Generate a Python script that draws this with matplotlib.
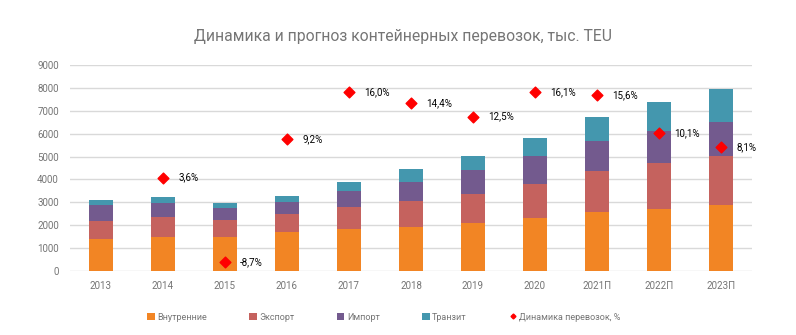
import matplotlib
matplotlib.use("Agg")
import matplotlib.pyplot as plt
import numpy as np

years = ["2013", "2014", "2015", "2016", "2017", "2018", "2019", "2020", "2021П", "2022П", "2023П"]
domestic = [1400, 1500, 1500, 1720, 1840, 1940, 2115, 2330, 2590, 2710, 2900]
export = [790, 860, 730, 780, 960, 1120, 1245, 1480, 1770, 2000, 2110]
imports = [710, 610, 520, 510, 690, 820, 1050, 1200, 1310, 1390, 1520]
transit = [200, 260, 220, 270, 410, 570, 600, 780, 1040, 1300, 1440]
growth = [None, 3.6, -8.7, 9.2, 16.0, 14.4, 12.5, 16.1, 15.6, 10.1, 8.1]

series_names = ["Внутренние", "Экспорт", "Импорт", "Транзит"]
colors = ["#F28524", "#C5625E", "#735A8E", "#4497AE"]
gray = "#757575"

plt.rcParams["font.family"] = ["Roboto", "DejaVu Sans"]

fig = plt.figure(figsize=(7.96, 3.35), dpi=100)
ax = fig.add_axes([70 / 796, 1 - 271 / 335, 682 / 796, 206 / 335])

x = np.arange(len(years))
bottom = np.zeros(len(years))
handles = []
for name, vals, c in zip(series_names, [domestic, export, imports, transit], colors):
    h = ax.bar(x, vals, width=0.4, bottom=bottom, color=c, label=name, zorder=3)
    handles.append(h)
    bottom += np.array(vals)

ax.set_xlim(-0.5, len(years) - 0.5)
ax.set_ylim(0, 9000)
ax.set_yticks(range(0, 9001, 1000))
ax.grid(axis="y", color="#D9D9D9", linewidth=1, zorder=0)
for s in ax.spines.values():
    s.set_visible(False)
ax.tick_params(axis="both", length=0, colors=gray, labelsize=7)
ax.tick_params(axis="y", pad=8)
ax.tick_params(axis="x", pad=7)
ax.set_xticks(x)
ax.set_xticklabels(years)

# growth rate on a hidden secondary scale
ax2 = ax.twinx()
ax2.set_ylim(-10, 20)
ax2.set_axis_off()
gx = [i for i, g in enumerate(growth) if g is not None]
gy = [g for g in growth if g is not None]
ax2.scatter(gx, gy, marker="D", s=30, color="#FF0000", zorder=5,
            label="Динамика перевозок, %")
for xi, yi in zip(gx, gy):
    ax2.annotate(f"{yi:.1f}%".replace(".", ","), (xi, yi), xytext=(11, 0),
                 textcoords="offset points", va="center", ha="left",
                 fontsize=7, color="black")

fig.text(403 / 796, 1 - 37 / 335, "Динамика и прогноз контейнерных перевозок, тыс. TEU",
         ha="center", va="center", fontsize=11.3, color=gray)

leg_handles = handles + [plt.Line2D([], [], marker="D", linestyle="none",
                                    color="#FF0000", markersize=2.5)]
leg = fig.legend(leg_handles, series_names + ["Динамика перевозок, %"],
                 loc="center", bbox_to_anchor=(384 / 796, 1 - 317 / 335),
                 ncol=5, frameon=False, fontsize=6.5, labelcolor=gray,
                 handlelength=0.8, handleheight=0.8, handletextpad=0.3,
                 columnspacing=4.7)

fig.savefig("out.png", dpi=100, facecolor="white")
